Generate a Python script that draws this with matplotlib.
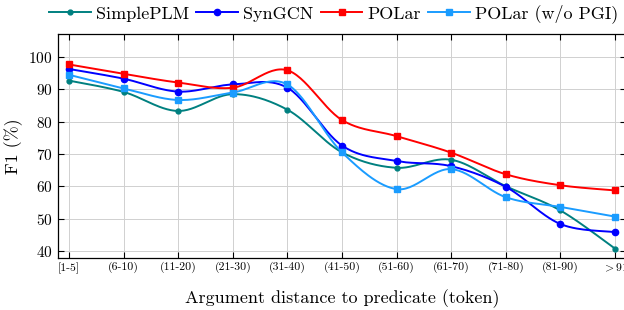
import numpy as np
import matplotlib
matplotlib.use("Agg")
import matplotlib.pyplot as plt

plt.rcParams["font.family"] = "serif"
plt.rcParams["font.serif"] = ["cmr10"]
plt.rcParams["mathtext.fontset"] = "cm"
plt.rcParams["axes.formatter.use_mathtext"] = True

categories = ["[1-5]", "(6-10)", "(11-20)", "(21-30)", "(31-40)", "(41-50)",
              "(51-60)", "(61-70)", "(71-80)", "(81-90)", r"$>$91"]
simpleplm = [92.7, 89.2, 83.3, 88.5, 83.7, 70.5, 65.7, 68.2, 60.0, 52.5, 40.7]
syngcn = [96.3, 93.3, 89.3, 91.5, 90.5, 72.6, 67.8, 66.2, 59.8, 48.3, 45.8]
polar = [97.7, 94.8, 92.1, 90.5, 95.9, 80.5, 75.5, 70.4, 63.7, 60.3, 58.7]
polar_wo_pgi = [94.5, 90.3, 86.7, 89.0, 91.5, 70.5, 59.1, 65.3, 56.6, 53.6, 50.6]

SERIES = [
    ("SimplePLM", simpleplm, "#008080", "o", 3.5),
    ("SynGCN", syngcn, "#0000FF", "o", 4.5),
    ("POLar", polar, "#FF0000", "s", 5),
    ("POLar (w/o PGI)", polar_wo_pgi, "#1A9CFF", "s", 5),
]


def smooth(x, y, tension=0.5, n=30):
    # cardinal spline through the points, like pgfplots "smooth"
    x = np.asarray(x, float)
    y = np.asarray(y, float)
    px = np.concatenate([[x[0]], x, [x[-1]]])
    py = np.concatenate([[y[0]], y, [y[-1]]])
    xs, ys = [], []
    t = np.linspace(0, 1, n)
    for i in range(1, len(px) - 2):
        p0 = np.array([px[i], py[i]])
        p1 = np.array([px[i + 1], py[i + 1]])
        d0 = (np.array([px[i + 1], py[i + 1]]) - np.array([px[i - 1], py[i - 1]])) * tension / 2
        d1 = (np.array([px[i + 2], py[i + 2]]) - np.array([px[i], py[i]])) * tension / 2
        c0 = p0 + d0 * 2 / 3
        c1 = p1 - d1 * 2 / 3
        b = ((1 - t) ** 3)[:, None] * p0 + (3 * (1 - t) ** 2 * t)[:, None] * c0 \
            + (3 * (1 - t) * t ** 2)[:, None] * c1 + (t ** 3)[:, None] * p1
        xs.extend(b[:, 0])
        ys.extend(b[:, 1])
    return xs, ys


fig = plt.figure(figsize=(6.24, 3.10), dpi=100)
ax = fig.add_axes([0.093, 0.168, 0.910, 0.722])
xpos = np.arange(len(categories))

handles = []
for name, vals, color, marker, ms in SERIES:
    sx, sy = smooth(xpos, vals)
    ax.plot(sx, sy, color=color, lw=1.4, zorder=3)
    ax.plot(xpos, vals, linestyle="none", marker=marker, color=color, ms=ms, zorder=4)
    h, = ax.plot([], [], color=color, lw=1.4, marker=marker, ms=ms)
    handles.append((h, name))

ax.set_xlim(-0.2, 10.2)
ax.set_ylim(37.8, 107.1)
ax.set_xticks(xpos)
ax.set_xticklabels(categories, fontsize=8.5)
ax.set_yticks([40, 50, 60, 70, 80, 90, 100])
ax.tick_params(axis="y", labelsize=11, direction="in", right=True, length=4, pad=4)
ax.tick_params(axis="x", direction="in", top=True, length=4, pad=3)
ax.grid(True, color="#d0d0d0", lw=0.7)
ax.set_axisbelow(True)
ax.set_ylabel("F1 (%)", fontsize=13, labelpad=4)
ax.set_xlabel("Argument distance to predicate (token)", fontsize=13, labelpad=11)
for s in ax.spines.values():
    s.set_linewidth(0.9)

fig.legend([h for h, _ in handles], [n for _, n in handles], loc="center",
           bbox_to_anchor=(0.535, 0.955), ncol=4, frameon=False, fontsize=13,
           handlelength=2.3, handletextpad=0.3, columnspacing=0.4)

fig.savefig("out.png", dpi=100)
plt.close()
